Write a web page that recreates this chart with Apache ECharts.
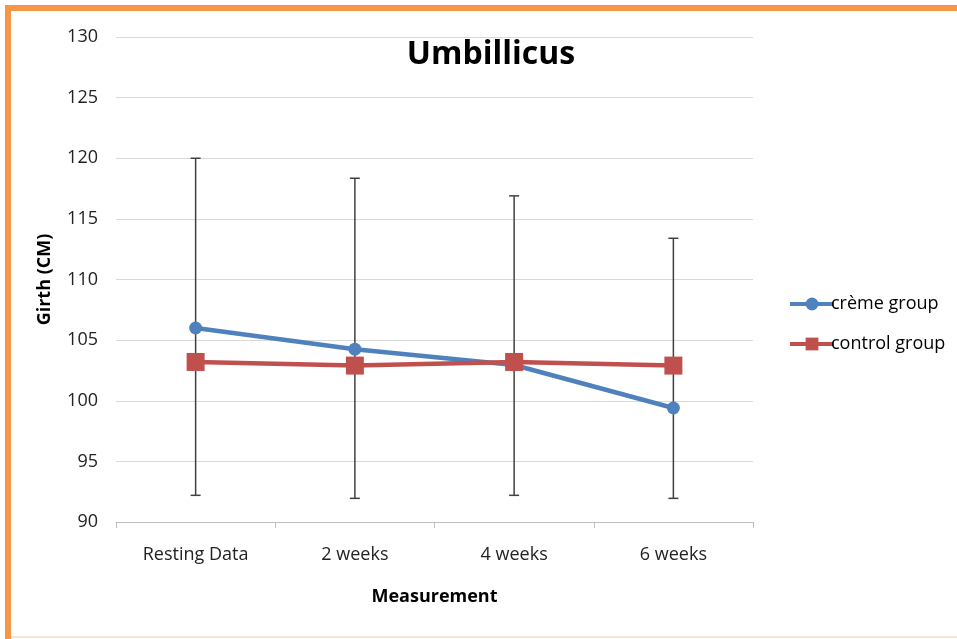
<!DOCTYPE html>
<html lang="en">
<head>
    <meta charset="UTF-8">
    <title>Umbillicus</title>
    <script type="text/javascript" src="https://cdn.jsdelivr.net/npm/echarts@6/dist/echarts.min.js"></script>
    <style>
        html, body { margin: 0; padding: 0; background: #fff; }
    </style>
</head>
<body>
    <div id="main" style="width: 957px;height:639px;"></div>
    <script type="text/javascript">
        // data
        var categories = ['Resting Data', '2 weeks', '4 weeks', '6 weeks'];
        var cremeGroup = [106.0, 104.25, 102.95, 99.4];
        var controlGroup = [103.2, 102.9, 103.2, 102.9];
        var errLow = [92.2, 91.95, 92.2, 91.95];
        var errHigh = [120.0, 118.35, 116.9, 113.4];

        var errData = [];
        for (var i = 0; i < categories.length; i++) {
            errData.push([i, errLow[i], errHigh[i]]);
        }

        var font = 'Open Sans';
        var myChart = echarts.init(document.getElementById('main'));

        var option = {
            animation: false,
            textStyle: { fontFamily: font },
            title: {
                text: 'Umbillicus',
                left: 486,
                top: 34,
                textAlign: 'center',
                textStyle: { fontSize: 32, fontWeight: 'bold', color: '#000', fontFamily: font }
            },
            legend: {
                orient: 'vertical',
                left: 783,
                top: 290,
                itemGap: 22,
                itemWidth: 44,
                itemHeight: 16,
                lineStyle: { width: 4 },
                textStyle: { fontSize: 18, color: '#000', padding: [0, 0, 0, -8] },
                data: ['crème group', 'control group']
            },
            grid: { left: 116, right: 204, top: 37, bottom: 117 },
            xAxis: {
                type: 'category',
                data: categories,
                name: 'Measurement',
                nameLocation: 'middle',
                nameGap: 66,
                nameTextStyle: { fontSize: 18, fontWeight: 'bold', color: '#000' },
                axisLine: { lineStyle: { color: '#bfbfbf' } },
                axisTick: { show: true, length: 6, lineStyle: { color: '#bfbfbf' } },
                axisLabel: { fontSize: 18, color: '#222', margin: 24 }
            },
            yAxis: {
                type: 'value',
                min: 90,
                max: 130,
                interval: 5,
                name: 'Girth (CM)',
                nameLocation: 'middle',
                nameGap: 62,
                nameTextStyle: { fontSize: 18, fontWeight: 'bold', color: '#000' },
                axisLine: { show: false },
                axisTick: { show: false },
                splitLine: { lineStyle: { color: '#d9d9d9' } },
                axisLabel: { fontSize: 18, color: '#222', margin: 18 }
            },
            series: [
                {
                    name: 'errors',
                    type: 'custom',
                    z: 1,
                    data: errData,
                    renderItem: function (params, api) {
                        var lo = api.coord([api.value(0), api.value(1)]);
                        var hi = api.coord([api.value(0), api.value(2)]);
                        var cap = 5;
                        var style = { stroke: '#404040', lineWidth: 1.5 };
                        return {
                            type: 'group',
                            children: [
                                { type: 'line', shape: { x1: lo[0], y1: lo[1], x2: hi[0], y2: hi[1] }, style: style },
                                { type: 'line', shape: { x1: lo[0] - cap, y1: lo[1], x2: lo[0] + cap, y2: lo[1] }, style: style },
                                { type: 'line', shape: { x1: hi[0] - cap, y1: hi[1], x2: hi[0] + cap, y2: hi[1] }, style: style }
                            ]
                        };
                    }
                },
                {
                    name: 'crème group',
                    type: 'line',
                    z: 3,
                    data: cremeGroup,
                    symbol: 'circle',
                    symbolSize: 13,
                    lineStyle: { width: 4.5, color: '#4F81BD' },
                    itemStyle: { color: '#4F81BD' }
                },
                {
                    name: 'control group',
                    type: 'line',
                    z: 4,
                    data: controlGroup,
                    symbol: 'rect',
                    symbolSize: 18,
                    lineStyle: { width: 4.5, color: '#C0504D' },
                    itemStyle: { color: '#C0504D' }
                }
            ],
            graphic: [
                { type: 'rect', shape: { x: 5, y: 5, width: 952, height: 6 }, style: { fill: '#F79646' } },
                { type: 'rect', shape: { x: 5, y: 5, width: 6, height: 634 }, style: { fill: '#F79646' } },
                { type: 'rect', shape: { x: 11, y: 636, width: 946, height: 2 }, style: { fill: '#FDE3CE' } }
            ]
        };

        myChart.setOption(option);
    </script>
</body>
</html>
